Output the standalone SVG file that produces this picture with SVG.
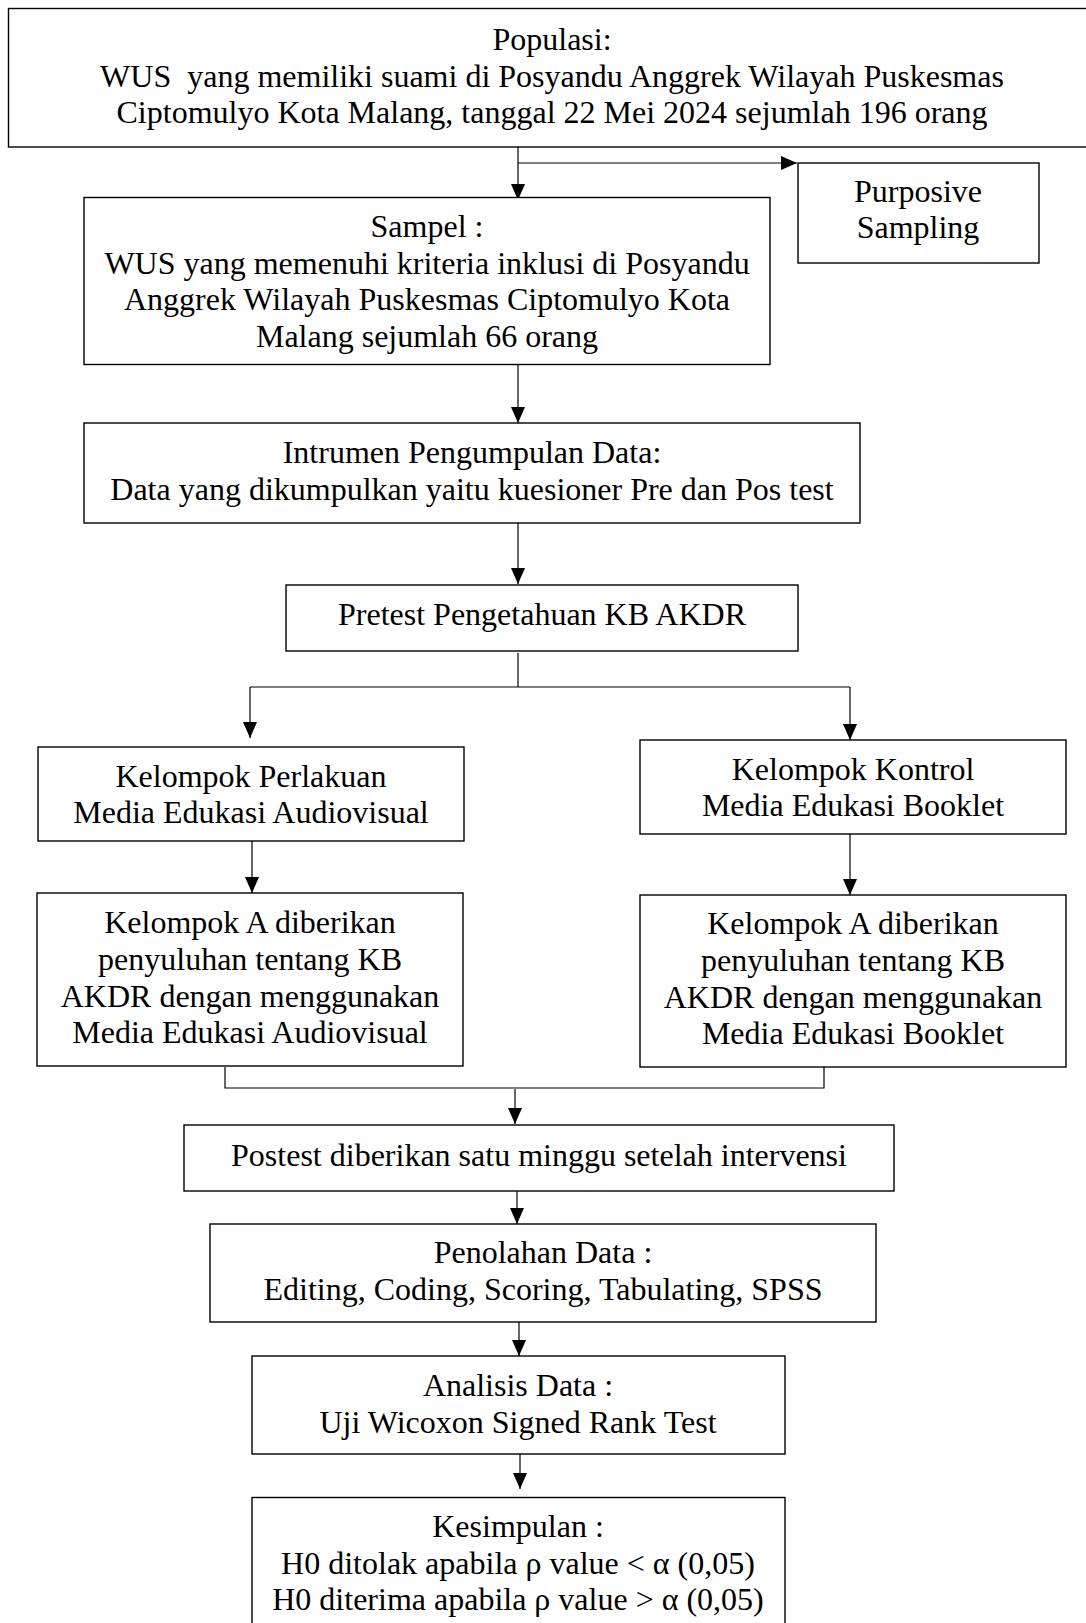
<svg xmlns="http://www.w3.org/2000/svg" width="1086" height="1623" viewBox="0 0 1086 1623">
<style>
.box{fill:#fff;stroke:#000;stroke-width:1.4}
.t{font-family:"Liberation Serif","Times New Roman",serif;font-size:32px;fill:#000;text-anchor:middle}
.c{fill:none;stroke:#000;stroke-width:1.2}
.a{marker-end:url(#arr)}
</style>
<defs>
<marker id="arr" markerUnits="userSpaceOnUse" markerWidth="16" markerHeight="14" refX="16" refY="7" orient="auto">
<path d="M0,0 L16,7 L0,14 Z" fill="#000"/>
</marker>
</defs>
<rect width="1086" height="1623" fill="#fff"/>
<g id="connectors">
<path class="c a" d="M518,147 V200"/>
<path class="c a" d="M518,163 H797"/>
<path class="c a" d="M518,364 V423"/>
<path class="c a" d="M518,523 V584"/>
<path class="c" d="M518,653 V687"/>
<path class="c" d="M250,687 H850"/>
<path class="c a" d="M250,687 V738"/>
<path class="c a" d="M850,687 V740"/>
<path class="c a" d="M252,841 V893"/>
<path class="c a" d="M850,834 V895"/>
<path class="c" d="M225,1067 V1088 H824 V1067"/>
<path class="c a" d="M515,1089 V1124"/>
<path class="c a" d="M517,1191 V1224"/>
<path class="c a" d="M519,1322 V1356"/>
<path class="c a" d="M520,1454 V1489"/>
</g>
<g id="populasi">
<rect class="box" x="8.5" y="8.5" width="1090" height="138.5"/>
<text class="t" x="552" y="50">Populasi:</text>
<text class="t" x="552" y="87" xml:space="preserve">WUS  yang memiliki suami di Posyandu Anggrek Wilayah Puskesmas</text>
<text class="t" x="552" y="123">Ciptomulyo Kota Malang, tanggal 22 Mei 2024 sejumlah 196 orang</text>
</g>
<g id="purposive">
<rect class="box" x="798" y="163" width="241" height="100"/>
<text class="t" x="918" y="202">Purposive</text>
<text class="t" x="918" y="238">Sampling</text>
</g>
<g id="sampel">
<rect class="box" x="84" y="197.5" width="686" height="167"/>
<text class="t" x="427" y="237">Sampel :</text>
<text class="t" x="427" y="274">WUS yang memenuhi kriteria inklusi di Posyandu</text>
<text class="t" x="427" y="310">Anggrek Wilayah Puskesmas Ciptomulyo Kota</text>
<text class="t" x="427" y="347">Malang sejumlah 66 orang</text>
</g>
<g id="intrumen">
<rect class="box" x="84" y="423" width="776" height="100"/>
<text class="t" x="472" y="463">Intrumen Pengumpulan Data:</text>
<text class="t" x="472" y="500">Data yang dikumpulkan yaitu kuesioner Pre dan Pos test</text>
</g>
<g id="pretest">
<rect class="box" x="286" y="585" width="512" height="66"/>
<text class="t" x="542" y="625">Pretest Pengetahuan KB AKDR</text>
</g>
<g id="perlakuan">
<rect class="box" x="38" y="747" width="426" height="94"/>
<text class="t" x="251" y="787">Kelompok Perlakuan</text>
<text class="t" x="251" y="823">Media Edukasi Audiovisual</text>
</g>
<g id="kontrol">
<rect class="box" x="640" y="740" width="426" height="94"/>
<text class="t" x="853" y="780">Kelompok Kontrol</text>
<text class="t" x="853" y="816">Media Edukasi Booklet</text>
</g>
<g id="kelompokA-audiovisual">
<rect class="box" x="37" y="893" width="426" height="173"/>
<text class="t" x="250" y="933">Kelompok A diberikan</text>
<text class="t" x="250" y="970">penyuluhan tentang KB</text>
<text class="t" x="250" y="1007">AKDR dengan menggunakan</text>
<text class="t" x="250" y="1043">Media Edukasi Audiovisual</text>
</g>
<g id="kelompokA-booklet">
<rect class="box" x="640" y="895" width="426" height="172"/>
<text class="t" x="853" y="934">Kelompok A diberikan</text>
<text class="t" x="853" y="971">penyuluhan tentang KB</text>
<text class="t" x="853" y="1008">AKDR dengan menggunakan</text>
<text class="t" x="853" y="1044">Media Edukasi Booklet</text>
</g>
<g id="postest">
<rect class="box" x="184" y="1125" width="710" height="66"/>
<text class="t" x="539" y="1166">Postest diberikan satu minggu setelah intervensi</text>
</g>
<g id="penolahan">
<rect class="box" x="210" y="1224" width="666" height="98"/>
<text class="t" x="543" y="1263">Penolahan Data :</text>
<text class="t" x="543" y="1300">Editing, Coding, Scoring, Tabulating, SPSS</text>
</g>
<g id="analisis">
<rect class="box" x="252" y="1356" width="533" height="98"/>
<text class="t" x="518" y="1396">Analisis Data :</text>
<text class="t" x="518" y="1433">Uji Wicoxon Signed Rank Test</text>
</g>
<g id="kesimpulan">
<rect class="box" x="252" y="1497.5" width="533" height="130"/>
<text class="t" x="518" y="1537">Kesimpulan :</text>
<text class="t" x="518" y="1574">H0 ditolak apabila ρ value &lt; α (0,05)</text>
<text class="t" x="518" y="1610">H0 diterima apabila ρ value &gt; α (0,05)</text>
</g>
</svg>
